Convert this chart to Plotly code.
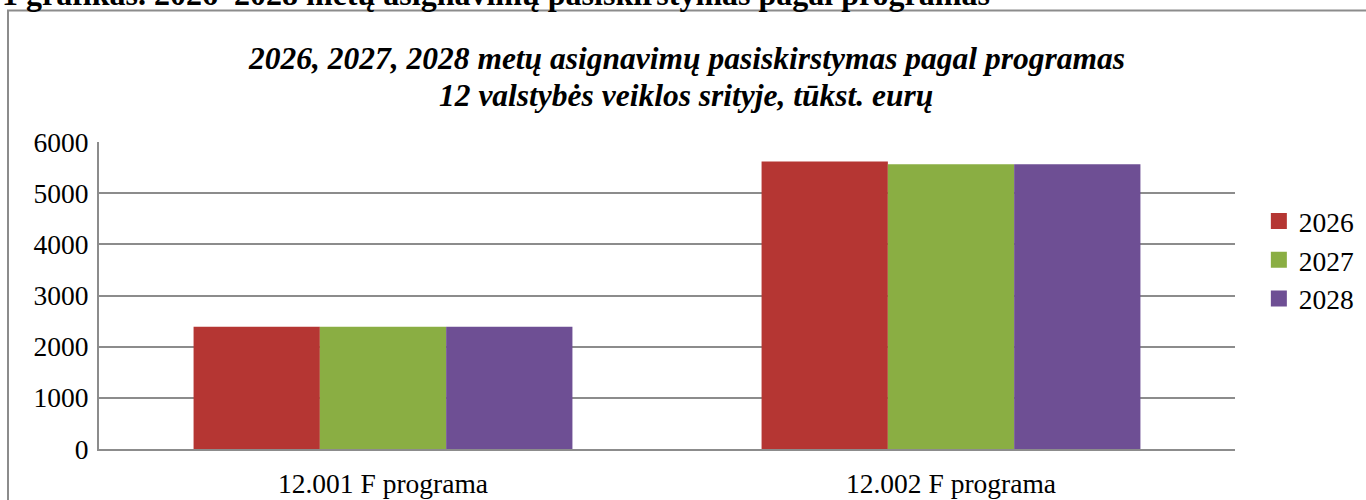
import plotly.graph_objects as go

categories = ["12.001 F programa", "12.002 F programa"]
years = ["2026", "2027", "2028"]
values_2026 = [2390, 5620]
values_2027 = [2390, 5565]
values_2028 = [2390, 5565]
y_ticks = [0, 1000, 2000, 3000, 4000, 5000, 6000]

series = [values_2026, values_2027, values_2028]
colors = ["#B53633", "#8AAE43", "#6E4F94"]

FONT = "Liberation Serif"

fig = go.Figure()
for name, vals, col in zip(years, series, colors):
    fig.add_trace(go.Bar(x=categories, y=vals, name=name, marker=dict(color=col, line=dict(width=0)),
                         showlegend=False, legendgroup=name))
for name, col in zip(years, colors):
    fig.add_trace(go.Scatter(x=[None], y=[None], mode="markers", name=name, legendgroup=name,
                             marker=dict(symbol="square", size=17, color=col)))

title_font = dict(family=FONT, size=31.5, color="black")
fig.update_layout(
    width=1366, height=500,
    margin=dict(l=99, r=131, t=142, b=51, autoexpand=False),
    paper_bgcolor="white", plot_bgcolor="white",
    font=dict(family=FONT, size=27, color="black"),
    barmode="group", bargap=0.333, bargroupgap=0,
    legend=dict(x=1.021, xanchor="left", y=0.822, yanchor="top",
                font=dict(family=FONT, size=27.5, color="black"),
                itemsizing="trace", tracegroupgap=0, bgcolor="rgba(0,0,0,0)"),
    xaxis=dict(showgrid=False, showline=True, linecolor="#8C8C8C", linewidth=2, ticks="",
               ticklabelstandoff=9, tickfont=dict(family=FONT, size=27.5, color="black")),
    yaxis=dict(range=[0, 6000], tickvals=y_ticks, showgrid=True, gridcolor="#8C8C8C", gridwidth=2,
               showline=True, linecolor="#8C8C8C", linewidth=2, ticks="", zeroline=False,
               ticklabelstandoff=3, tickfont=dict(family=FONT, size=27.5, color="black")),
    shapes=[dict(type="rect", xref="paper", yref="paper",
                 x0=(8 - 99) / 1136, x1=1.3, y0=-0.4, y1=(449 - 10.5) / 307,
                 line=dict(color="#8C8C8C", width=2), fillcolor="rgba(0,0,0,0)", layer="below")],
    annotations=[
        dict(text="<b>1 grafikas. 2026–2028 metų asignavimų pasiskirstymas pagal programas</b>",
             xref="paper", yref="paper", x=(0 - 99) / 1136, y=1, xanchor="left", yanchor="middle",
             yshift=148, showarrow=False, font=dict(family=FONT, size=32, color="black")),
        dict(text="<b><i>2026, 2027, 2028 metų asignavimų pasiskirstymas pagal programas</i></b>",
             xref="paper", yref="paper", x=(686 - 99) / 1136, y=1, xanchor="center", yanchor="middle",
             yshift=84, showarrow=False, font=title_font),
        dict(text="<b><i>12 valstybės veiklos srityje, tūkst. eurų</i></b>",
             xref="paper", yref="paper", x=(686 - 99) / 1136, y=1, xanchor="center", yanchor="middle",
             yshift=47, showarrow=False, font=title_font),
    ],
)

fig.write_html("out.html", config={"displayModeBar": False},
               post_script="document.body.style.margin='0';")
